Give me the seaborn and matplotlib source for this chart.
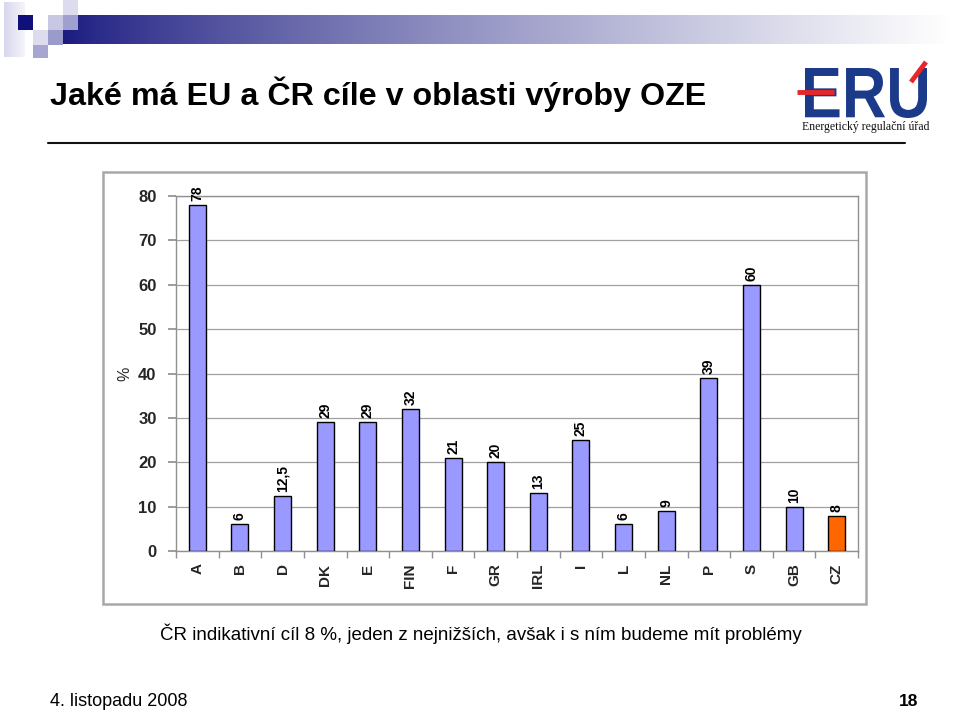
import matplotlib
matplotlib.use("Agg")
import matplotlib.pyplot as plt
import matplotlib.patches as mpatches
from matplotlib.textpath import TextPath
from matplotlib.font_manager import FontProperties
from matplotlib.transforms import Affine2D
import numpy as np
import pandas as pd
import seaborn as sns

countries = ["A", "B", "D", "DK", "E", "FIN", "F", "GR", "IRL", "I", "L", "NL", "P", "S", "GB", "CZ"]
values = [78, 6, 12.5, 29, 29, 32, 21, 20, 13, 25, 6, 9, 39, 60, 10, 8]
value_labels = ["78", "6", "12,5", "29", "29", "32", "21", "20", "13", "25", "6", "9", "39", "60", "10", "8"]
y_ticks = [0, 10, 20, 30, 40, 50, 60, 70, 80]

title = "Jaké má EU a ČR cíle v oblasti výroby OZE"
note = "ČR indikativní cíl 8 %, jeden z nejnižších, avšak i s ním budeme mít problémy"
footer_date = "4. listopadu 2008"
page_no = "18"
logo_word = "ERU"
logo_sub = "Energetický regulační úřad"

sns.set_theme(style="white")
plt.rcParams["font.family"] = ["Liberation Sans", "DejaVu Sans"]

W, H = 960, 710
fig = plt.figure(figsize=(9.6, 7.1), dpi=100)
fig.patch.set_facecolor("white")

# background overlay axes in pixel coordinates
bg = fig.add_axes([0, 0, 1, 1], zorder=0)
bg.set_xlim(0, W)
bg.set_ylim(H, 0)
bg.axis("off")
bg.set_autoscale_on(False)

# top gradient bar
grad = np.linspace(0, 1, 512)
c0 = np.array([0x1a, 0x1a, 0x80]) / 255
c1 = np.array([1.0, 1.0, 1.0])
cols = np.array([c0 * (1 - g) + c1 * g for g in np.clip(grad ** 0.8, 0, 1)])
bg.imshow(cols[np.newaxis, :, :], extent=[63, 950, 44, 15], aspect="auto", zorder=1)

# decorative squares
light = "#dcdcee"
mid = "#a6a6d2"
def sq(x, y, w, h, c, z=4):
    bg.add_patch(mpatches.Rectangle((x, y), w, h, facecolor=c, edgecolor="none", zorder=z))
vg = np.linspace(0, 1, 64)
vcols = np.array([np.array([0xd8, 0xd8, 0xee]) / 255 * (1 - g) + np.array([0xf4, 0xf4, 0xfa]) / 255 * g for g in vg])
bg.imshow(vcols[np.newaxis, :, :], extent=[4, 25, 57, 2], aspect="auto", zorder=2)
sq(18, 15, 15, 15, "#10107a", 5)
sq(33, 30, 15, 15, light)
sq(33, 45, 15, 13, mid)
sq(48, 15, 15, 15, "#c8c8e4")
sq(48, 30, 15, 15, "#9a9acb")
sq(63, 0, 15, 15, light)
sq(63, 15, 15, 15, "#a0a0d0", 5)
bg.set_xlim(0, W)
bg.set_ylim(H, 0)

# title
bg.text(50, 105, title, fontsize=23.2, fontweight="bold", color="black", ha="left", va="baseline")
bg.plot([48, 905], [143, 143], color="#111111", lw=1.5)

# logo (text path scaled into its box)
navy = "#1c3a8a"
tp = TextPath((0, 0), logo_word, size=100, prop=FontProperties(family="Liberation Sans", weight="bold"))
ext = tp.get_extents()
x0, x1, y0, y1 = 805, 927, 68, 118
sx = (x1 - x0) / ext.width
sy = (y1 - y0) / ext.height
trans = Affine2D().translate(-ext.x0, -ext.y0).scale(sx, -sy).translate(x0, y1)
logo_path = trans.transform_path(tp)
bg.add_patch(mpatches.PathPatch(logo_path, facecolor=navy, edgecolor="none", zorder=4))
bg.plot([797, 834], [92, 92], color="#e8262a", lw=3.5, solid_capstyle="butt", zorder=5)
bg.plot([911, 926], [82, 62], color="#e8262a", lw=3.5, solid_capstyle="butt", zorder=5)
bg.text(866, 130, logo_sub, fontsize=8.5, color="#111111", ha="center", va="baseline",
        family=["Liberation Serif", "DejaVu Serif"])

# chart outer frame
bg.add_patch(mpatches.Rectangle((103, 172), 763, 432, facecolor="none", edgecolor="#a8a8a8", lw=1.8, zorder=2))

# note and footer
bg.text(481, 640, note, fontsize=13.5, color="black", ha="center", va="baseline")
bg.text(50, 706, footer_date, fontsize=13, color="black", ha="left", va="baseline")
bg.text(918, 706, page_no, fontsize=12.5, fontweight="bold", color="black", ha="right", va="baseline")

# main chart
ax = fig.add_axes([176 / W, (H - 551) / H, (858 - 176) / W, (551 - 196) / H], zorder=3)
df = pd.DataFrame({"country": countries, "value": values})
palette = {c: ("#FF6600" if c == "CZ" else "#9999FF") for c in countries}
sns.barplot(data=df, x="country", y="value", hue="country", palette=palette, order=countries,
            width=0.4, edgecolor="black", linewidth=1.0, legend=False, ax=ax, zorder=3, saturation=1)

ax.set_xlim(-0.5, len(countries) - 0.5)
ax.set_ylim(0, 80)
ax.set_yticks(y_ticks)
ax.set_yticklabels([str(t) for t in y_ticks], fontsize=12, fontweight="bold")
ax.yaxis.grid(True, color="#a0a0a0", lw=0.9)
ax.set_axisbelow(True)
ax.patch.set_alpha(0)
ax.set_xlabel("")
ax.set_ylabel("%", fontsize=11.5, rotation=90, labelpad=4)

ax.set_xticks(range(len(countries)))
ax.set_xticklabels(countries, rotation=90, fontsize=11, fontweight="bold", va="top", ha="center")
ax.set_xticks(np.arange(-0.5, len(countries), 1.0), minor=True)
ax.tick_params(axis="x", which="major", length=0, pad=9)
ax.tick_params(axis="x", which="minor", length=5, color="#909090", direction="out", bottom=True)
ax.tick_params(axis="y", which="major", length=6, color="#909090", direction="out", left=True, pad=8)

for s in ["left", "bottom", "right", "top"]:
    ax.spines[s].set_visible(True)
    ax.spines[s].set_color("#909090")
    ax.spines[s].set_linewidth(1.0)

for i, (v, lab) in enumerate(zip(values, value_labels)):
    ax.text(i, v + 0.9, lab, rotation=90, ha="center", va="bottom", fontsize=10, fontweight="bold", color="black")

fig.savefig("out.png", dpi=100)
